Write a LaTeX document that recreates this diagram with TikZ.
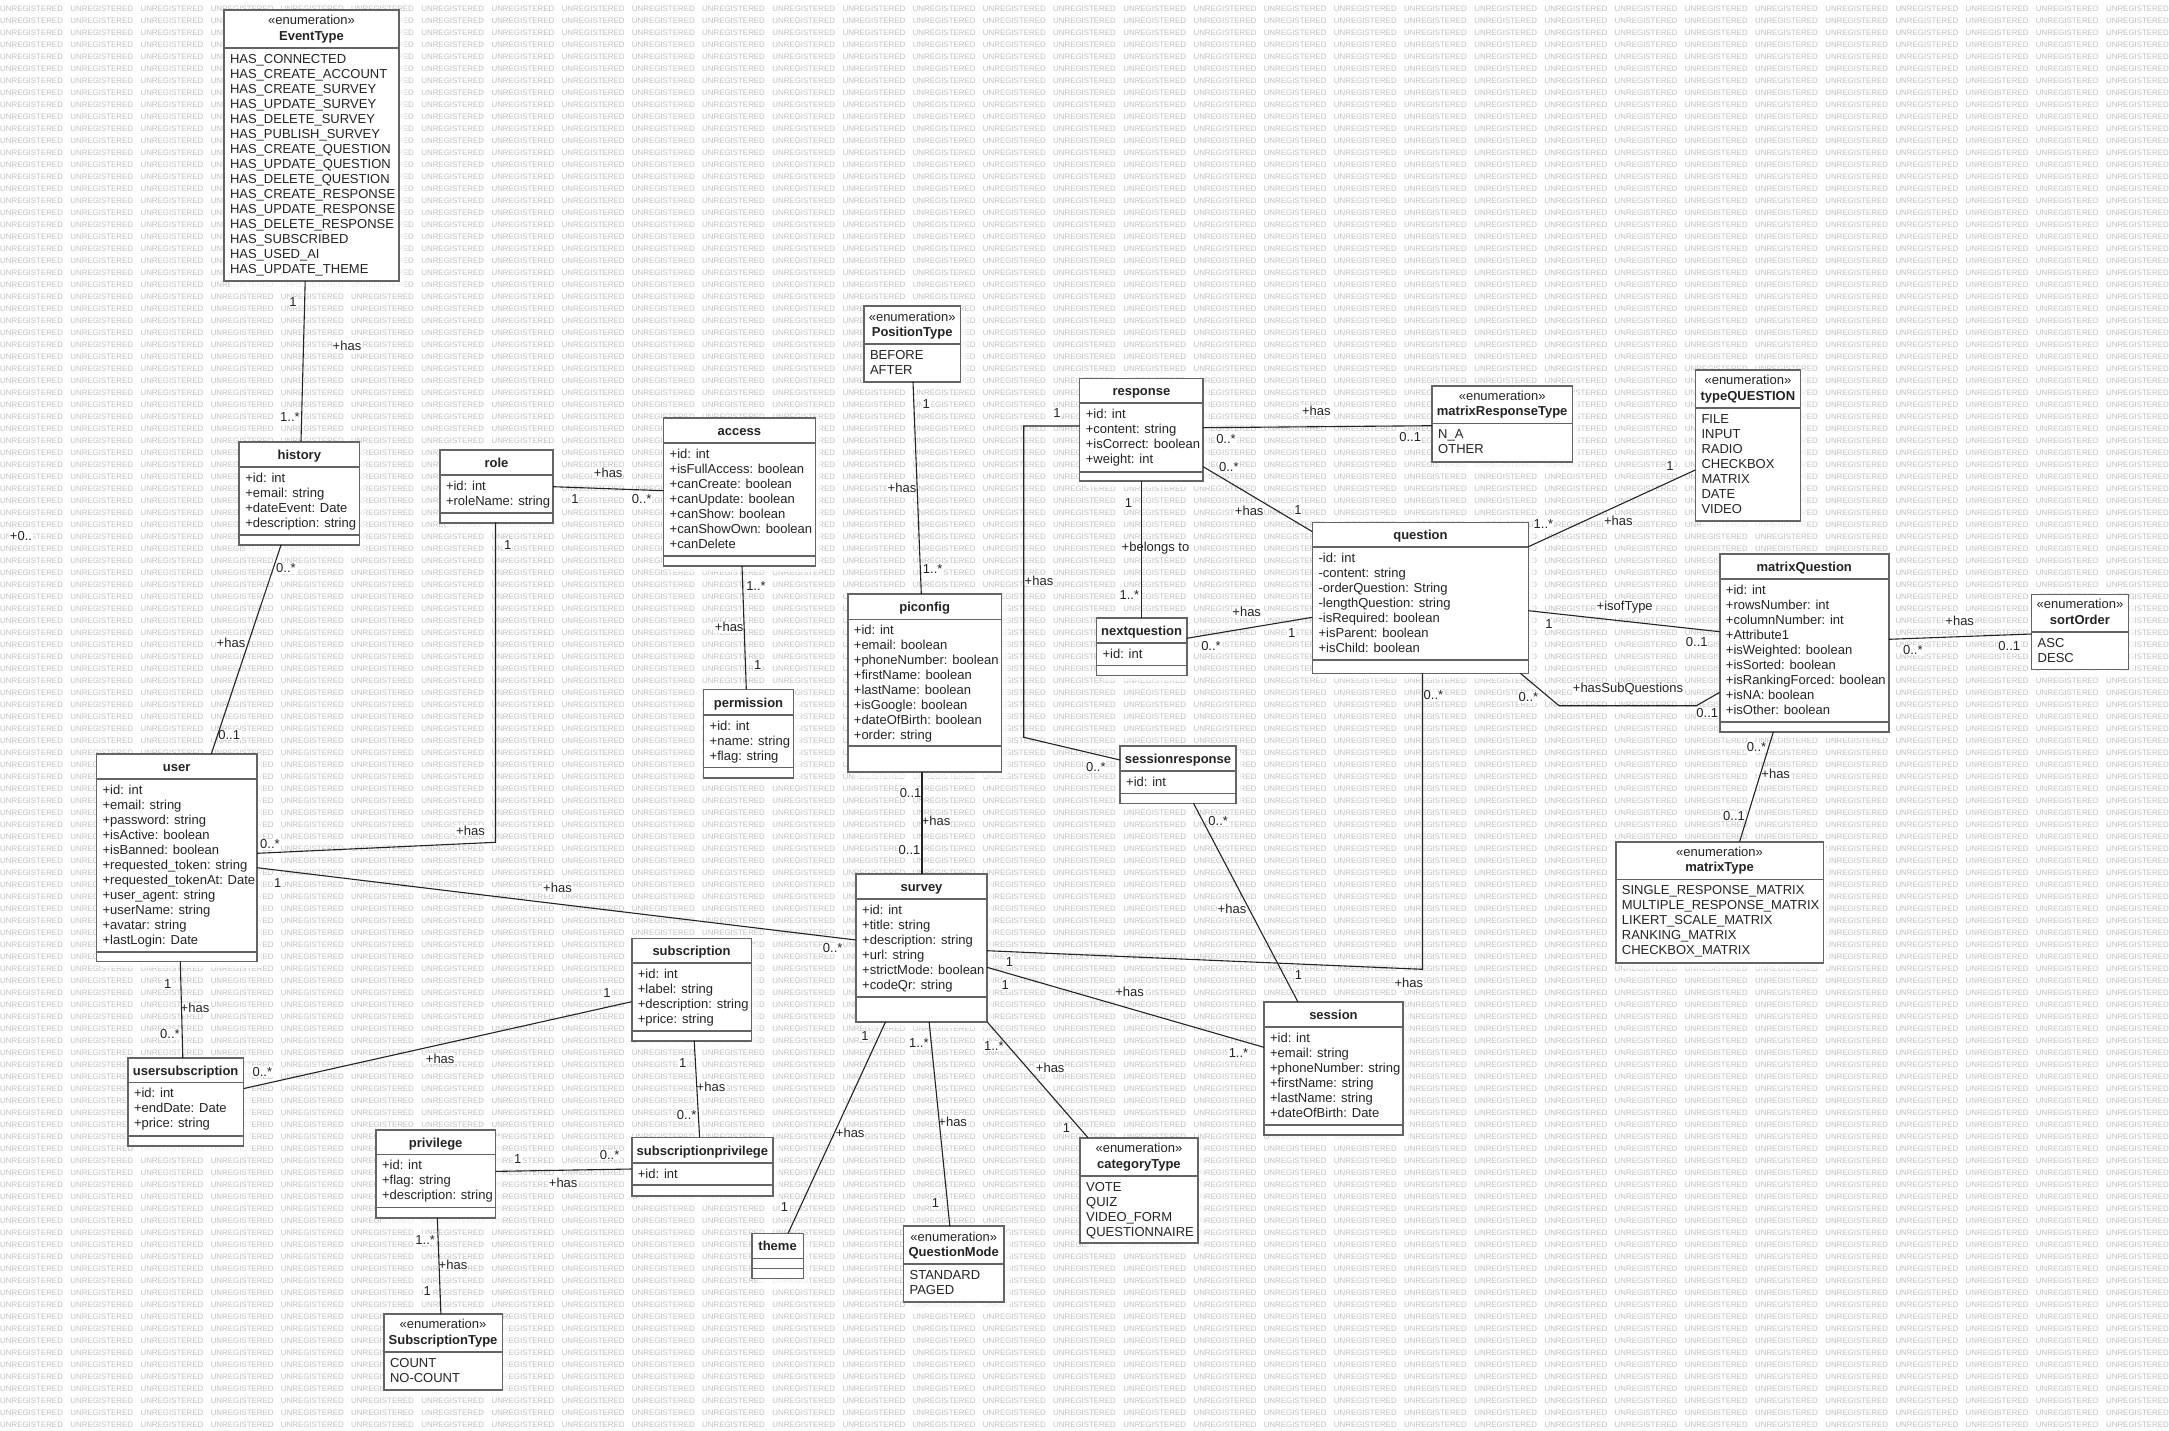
\documentclass[tikz,border=0pt]{standalone}
\usepackage{fontspec}
\setmainfont{Liberation Sans}
\usetikzlibrary{shadows}

\definecolor{boxgray}{RGB}{100,100,100}
\definecolor{inkc}{RGB}{35,35,35}
\definecolor{wmgray}{RGB}{192,192,192}

\newsavebox\wmrow

\tikzset{
  umlbox/.style={draw=boxgray, line width=1.6pt, fill=white, outer sep=0pt, inner sep=0pt,
    drop shadow={shadow xshift=6pt, shadow yshift=-6pt, fill=white, opacity=0.65}},
  sepline/.style={draw=boxgray, line width=1.6pt},
  conn/.style={draw=inkc, line width=1.1pt},
  ttl/.style={font=\fontsize{13}{15}\selectfont\bfseries, text=inkc, inner sep=0pt},
  stereo/.style={font=\fontsize{13}{15}\selectfont, text=inkc, inner sep=0pt},
  attr/.style={font=\fontsize{13}{15}\selectfont, text=inkc, inner sep=0pt},
  lbl/.style={font=\fontsize{13}{15}\selectfont, text=inkc, fill=white, inner sep=0.8pt},
}

% class box: name, left, top, right, bottom, header rule, body rule, title, attributes
\newcommand\umlclass[9]{%
  \pgfmathsetmacro\bxw{#4-#2}\pgfmathsetmacro\bxh{#5-#3}%
  \pgfmathsetmacro\bxt{#6-7.5}\pgfmathsetmacro\bxa{#2+6}\pgfmathsetmacro\bxy{#6+15.3}%
  \node[umlbox, anchor=north west, minimum width=\bxw pt, minimum height=\bxh pt] (#1) at (#2,#3) {};
  \draw[sepline] (#1.west |- 0,#6) -- (#1.east |- 0,#6);
  \ifx\relax#7\relax\else\draw[sepline] (#1.west |- 0,#7) -- (#1.east |- 0,#7);\fi
  \node[ttl, anchor=base] (#1-t) at (#1.north |- 0,\bxt) {#8};
  \ifx\relax#9\relax\else
  \foreach \itm [count=\ii] in {#9} {\node[attr, anchor=base west] (#1-a\ii) at (\bxa,\bxy+15*\ii-15) {\itm};}
  \fi
}

% enumeration box: name, left, top, right, bottom, header rule, title, literals
\newcommand\umlenum[8]{%
  \pgfmathsetmacro\bxw{#4-#2}\pgfmathsetmacro\bxh{#5-#3}%
  \pgfmathsetmacro\bxt{#6-7.5}\pgfmathsetmacro\bxs{#6-23}%
  \pgfmathsetmacro\bxa{#2+6}\pgfmathsetmacro\bxy{#6+15.3}%
  \node[umlbox, anchor=north west, minimum width=\bxw pt, minimum height=\bxh pt] (#1) at (#2,#3) {};
  \draw[sepline] (#1.west |- 0,#6) -- (#1.east |- 0,#6);
  \node[stereo, anchor=base] (#1-s) at (#1.north |- 0,\bxs) {«enumeration»};
  \node[ttl, anchor=base] (#1-t) at (#1.north |- 0,\bxt) {#7};
  \foreach \itm [count=\ii] in {#8} {\node[attr, anchor=base west] (#1-a\ii) at (\bxa,\bxy+15*\ii-15) {\itm};}
}

% multiplicity / role label
\newcommand\lbl[4]{\node[lbl] (#1) at (#2,#3) {#4};}

\begin{document}
\sbox\wmrow{\fontsize{7.9}{8}\selectfont\color{wmgray}%
  \foreach \jj in {1,...,31}{\makebox[70.2pt][l]{UNREGISTERED}}}
\begin{tikzpicture}[x=1pt,y=-1pt]
\useasboundingbox (0,0) rectangle (2169,1430);
\fill[white] (0,0) rectangle (2169,1430);

% watermark rows
\begin{scope}
  \clip (0,0) rectangle (2169,1430);
  \foreach \rr in {0,...,118} {
    \node[anchor=base west, inner sep=0pt] (wm\rr) at (0,11.15+12*\rr) {\usebox\wmrow};
  }
\end{scope}

% ---------- classes and enumerations ----------
\umlenum{EventType}{223.8}{10}{399.2}{281}{47.7}{EventType}{HAS\_CONNECTED, HAS\_CREATE\_ACCOUNT, HAS\_CREATE\_SURVEY, HAS\_UPDATE\_SURVEY, HAS\_DELETE\_SURVEY, HAS\_PUBLISH\_SURVEY, HAS\_CREATE\_QUESTION, HAS\_UPDATE\_QUESTION, HAS\_DELETE\_QUESTION, HAS\_CREATE\_RESPONSE, HAS\_UPDATE\_RESPONSE, HAS\_DELETE\_RESPONSE, HAS\_SUBSCRIBED, HAS\_USED\_AI, HAS\_UPDATE\_THEME}
\umlclass{history}{239.2}{441.7}{359.5}{545}{466.7}{535}{history}{+id: int, +email: string, +dateEvent: Date, +description: string}
\umlclass{role}{439.8}{450}{553.2}{522.7}{475}{512.7}{role}{+id: int, +roleName: string}
\umlclass{access}{663.5}{417.7}{815.3}{566}{443}{556}{access}{+id: int, +isFullAccess: boolean, +canCreate: boolean, +canUpdate: boolean, +canShow: boolean, +canShowOwn: boolean, +canDelete}
\umlclass{permission}{703.5}{689.3}{793.5}{777.7}{715}{767.3}{permission}{+id: int, +name: string, +flag: string}
\umlenum{PositionType}{863.8}{306}{960.5}{381.7}{344}{PositionType}{BEFORE, AFTER}
\umlclass{piconfig}{847.7}{594}{1001.6}{771.7}{619.3}{746}{piconfig}{+id: int, +email: boolean, +phoneNumber: boolean, +firstName: boolean, +lastName: boolean, +isGoogle: boolean, +dateOfBirth: boolean, +order: string}
\umlclass{response}{1079.6}{378.3}{1203.2}{480.7}{402.7}{471.7}{response}{+id: int, +content: string, +isCorrect: boolean, +weight: int}
\umlenum{matrixResponseType}{1432}{386}{1572.3}{461.7}{423.3}{matrixResponseType}{N\_A, OTHER}
\umlenum{typeQUESTION}{1695.3}{370}{1800.5}{521}{407.7}{typeQUESTION}{FILE, INPUT, RADIO, CHECKBOX, MATRIX, DATE, VIDEO}
\umlclass{question}{1312.4}{522.3}{1528.4}{673.3}{546.7}{660}{question}{-id: int, -content: string, -orderQuestion: String, -lengthQuestion: string, -isRequired: boolean, +isParent: boolean, +isChild: boolean}
\umlclass{nextquestion}{1096.4}{617.7}{1186.7}{675.3}{642.7}{665.3}{nextquestion}{+id: int}
\umlclass{matrixQuestion}{1719.7}{554}{1888.7}{731.7}{579}{721.7}{matrixQuestion}{+id: int, +rowsNumber: int, +columnNumber: int, +Attribute1, +isWeighted: boolean, +isSorted: boolean, +isRankingForced: boolean, +isNA: boolean, +isOther: boolean}
\umlenum{sortOrder}{2031.5}{594.3}{2128.4}{669.3}{631.7}{sortOrder}{ASC, DESC}
\umlclass{user}{96.4}{754}{257}{961.5}{779}{951.7}{user}{+id: int, +email: string, +password: string, +isActive: boolean, +isBanned: boolean, +requested\_token: string, +requested\_tokenAt: Date, +user\_agent: string, +userName: string, +avatar: string, +lastLogin: Date}
\umlclass{sessionresponse}{1120}{746}{1236}{803.3}{770.7}{793.3}{sessionresponse}{+id: int}
\umlclass{survey}{856}{874}{987}{1021.7}{899}{996.7}{survey}{+id: int, +title: string, +description: string, +url: string, +strictMode: boolean, +codeQr: string}
\umlenum{matrixType}{1615.7}{841.7}{1823.4}{962.7}{879.3}{matrixType}{SINGLE\_RESPONSE\_MATRIX, MULTIPLE\_RESPONSE\_MATRIX, LIKERT\_SCALE\_MATRIX, RANKING\_MATRIX, CHECKBOX\_MATRIX}
\umlclass{subscription}{631.7}{938.3}{751.3}{1040.7}{962.7}{1031}{subscription}{+id: int, +label: string, +description: string, +price: string}
\umlclass{session}{1263.9}{1001.7}{1403}{1135}{1026.7}{1125}{session}{+id: int, +email: string, +phoneNumber: string, +firstName: string, +lastName: string, +dateOfBirth: Date}
\umlclass{usersubscription}{127.8}{1057.8}{243.5}{1145.7}{1082.5}{1135.9}{usersubscription}{+id: int, +endDate: Date, +price: string}
\umlclass{subscriptionprivilege}{631.7}{1137.3}{773.1}{1195.7}{1162.7}{1185}{subscriptionprivilege}{+id: int}
\umlclass{privilege}{375.9}{1129.8}{495.5}{1217.7}{1154.5}{1207.6}{privilege}{+id: int, +flag: string, +description: string}
\umlenum{categoryType}{1080}{1137.7}{1197.8}{1243}{1175.7}{categoryType}{VOTE, QUIZ, VIDEO\_FORM, QUESTIONNAIRE}
\umlclass{theme}{751.7}{1233.3}{803.5}{1278.3}{1258.3}{1268.3}{theme}{}
\umlenum{QuestionMode}{903.4}{1226}{1004.1}{1301.7}{1264}{QuestionMode}{STANDARD, PAGED}
\umlenum{SubscriptionType}{383.8}{1314}{502.3}{1390.1}{1351.9}{SubscriptionType}{COUNT, NO-COUNT}

% ---------- association labels ----------
\lbl{l0}{21}{535.7}{+0..}
\lbl{l1a}{293}{302}{1} \lbl{l1b}{347}{345.7}{+has} \lbl{l1c}{290}{416.7}{1..*}
\lbl{l2a}{286}{568.3}{0..*} \lbl{l2b}{231}{643.3}{+has} \lbl{l2c}{229.2}{735}{0..1}
\lbl{l3a}{608.2}{472.7}{+has} \lbl{l3b}{575}{499.3}{1} \lbl{l3c}{641.7}{499.3}{0..*}
\lbl{l4a}{507.7}{545}{1} \lbl{l4b}{470.5}{830.7}{+has} \lbl{l4c}{270}{844.3}{0..*}
\lbl{l5a}{277.7}{882.7}{1} \lbl{l5b}{557.5}{888.3}{+has} \lbl{l5c}{832.7}{948.3}{0..*}
\lbl{l6a}{756}{586}{1..*} \lbl{l6b}{729.2}{627.3}{+has} \lbl{l6c}{757.8}{665}{1}
\lbl{l7a}{926.3}{404}{1} \lbl{l7b}{902}{487.7}{+has} \lbl{l7c}{932.7}{569.3}{1..*}
\lbl{l8a}{910.6}{792.7}{0..1} \lbl{l8b}{936}{821}{+has} \lbl{l8c}{909.5}{850}{0..1}
\lbl{l9a}{1057}{413.3}{1} \lbl{l9b}{1039}{580.7}{+has} \lbl{l9c}{1095.9}{766.7}{0..*}
\lbl{l10a}{1316.4}{410.7}{+has} \lbl{l10b}{1226}{439}{0..*} \lbl{l10c}{1410.2}{437.3}{0..1}
\lbl{l11a}{1228.9}{466.7}{0..*} \lbl{l11b}{1249.2}{510.7}{+has} \lbl{l11c}{1298}{510}{1}
\lbl{l12a}{1128.5}{502.7}{1} \lbl{l12b}{1155.5}{547.7}{+belongs to} \lbl{l12c}{1129.3}{595}{1..*}
\lbl{l13a}{1246.7}{612.3}{+has} \lbl{l13b}{1291.7}{632.7}{1} \lbl{l13c}{1211}{646}{0..*}
\lbl{l14a}{1543.4}{524.3}{1..*} \lbl{l14b}{1618.3}{521}{+has} \lbl{l14c}{1670}{466}{1}
\lbl{l15a}{1624.7}{606.7}{+isofType} \lbl{l15b}{1549}{624.3}{1} \lbl{l15c}{1696.8}{641.7}{0..1}
\lbl{l16a}{1528.4}{697.3}{0..*} \lbl{l16b}{1628}{689.5}{+hasSubQuestions} \lbl{l16c}{1707.3}{712.7}{0..1}
\lbl{l17a}{1433.4}{695}{0..*} \lbl{l17b}{1408.8}{983.3}{+has} \lbl{l17c}{1009.5}{961.7}{1}
\lbl{l18a}{1005.2}{985}{1} \lbl{l18b}{1129.6}{992.3}{+has} \lbl{l18c}{1238.5}{1052.7}{1..*}
\lbl{l19a}{1218.2}{821}{0..*} \lbl{l19b}{1232}{909.3}{+has} \lbl{l19c}{1298.5}{975.3}{1}
\lbl{l20a}{1959.7}{621}{+has} \lbl{l20b}{1912.8}{650}{0..*} \lbl{l20c}{2009.3}{646}{0..1}
\lbl{l21a}{1756.5}{747.3}{0..*} \lbl{l21b}{1775.7}{774.3}{+has} \lbl{l21c}{1734}{816}{0..1}
\lbl{l22a}{167.8}{983.8}{1} \lbl{l22b}{195}{1008.2}{+has} \lbl{l22c}{170}{1034.2}{0..*}
\lbl{l23a}{262.4}{1071.7}{0..*} \lbl{l23b}{440.2}{1058.9}{+has} \lbl{l23c}{607.1}{993.3}{1}
\lbl{l24a}{682.8}{1062.7}{1} \lbl{l24b}{711}{1087.3}{+has} \lbl{l24c}{686.7}{1115}{0..*}
\lbl{l25a}{517.7}{1158.6}{1} \lbl{l25b}{563.2}{1183.3}{+has} \lbl{l25c}{609.6}{1155}{0..*}
\lbl{l26a}{425.2}{1239.7}{1..*} \lbl{l26b}{453}{1264.4}{+has} \lbl{l26c}{427.3}{1291}{1}
\lbl{l27a}{864.9}{1036}{1} \lbl{l27b}{850.2}{1133.3}{+has} \lbl{l27c}{784.5}{1207.3}{1}
\lbl{l28a}{918.8}{1043.3}{1..*} \lbl{l28b}{952.7}{1121.7}{+has} \lbl{l28c}{935.6}{1203.3}{1}
\lbl{l29a}{993.8}{1046}{1..*} \lbl{l29b}{1050.2}{1068.3}{+has} \lbl{l29c}{1066.6}{1128.3}{1}

% ---------- associations ----------
\coordinate (k4) at (495.5,842.3);
\coordinate (k9a) at (1023.7,426);
\coordinate (k9b) at (1023.7,737.3);
\coordinate (k16a) at (1559,705.7);
\coordinate (k16b) at (1696.4,705.7);
\coordinate (k17) at (1422.5,969.3);

\draw[conn] (EventType.south -| 305.2,0) -- (history.north -| 301,0);
\draw[conn] (history.south -| 281,0) -- (user.north -| 211.3,0);
\draw[conn] (role.east |- 0,486.7) -- (access.west |- 0,490.7);
\draw[conn] (role.south -| k4) -- (k4) -- (user.east |- 0,853.3);
\draw[conn] (user.east |- 0,867.7) -- (survey.west |- 0,940);
\draw[conn] (access.south -| 742,0) -- (permission.north -| 746.3,0);
\draw[conn] (PositionType.south -| 913,0) -- (piconfig.north -| 921.3,0);
\draw[conn] (piconfig.south -| 922,0) -- (survey.north -| 922,0);
\draw[conn] (response.west |- k9a) -- (k9a) -- (k9b) -- (sessionresponse.west |- 0,760);
\draw[conn] (response.east |- 0,427.7) -- (matrixResponseType.west |- 0,425.7);
\draw[conn] (response.east |- 0,466.7) -- (question.west |- 0,531.7);
\draw[conn] (response.south -| 1141.4,0) -- (nextquestion.north -| 1141.4,0);
\draw[conn] (nextquestion.east |- 0,638.3) -- (question.west |- 0,617.3);
\draw[conn] (question.east |- 0,546.7) -- (typeQUESTION.west |- 0,470);
\draw[conn] (question.east |- 0,610.7) -- (matrixQuestion.west |- 0,631.7);
\draw[conn] (question.south -| 1520.4,0) -- (k16a) -- (k16b) -- (matrixQuestion.west |- 0,692.3);
\draw[conn] (question.south -| k17) -- (k17) -- (survey.east |- 0,950.7);
\draw[conn] (survey.east |- 0,967.3) -- (session.west |- 0,1047.3);
\draw[conn] (sessionresponse.south -| 1193.5,0) -- (session.north -| 1297.8,0);
\draw[conn] (matrixQuestion.east |- 0,639.3) -- (sortOrder.west |- 0,634);
\draw[conn] (matrixQuestion.south -| 1773.4,0) -- (matrixType.north -| 1739.6,0);
\draw[conn] (user.south -| 180.3,0) -- (usersubscription.north -| 182.8,0);
\draw[conn] (usersubscription.east |- 0,1088.6) -- (subscription.west |- 0,1001.7);
\draw[conn] (subscription.south -| 694.2,0) -- (subscriptionprivilege.north -| 699.6,0);
\draw[conn] (privilege.east |- 0,1171.4) -- (subscriptionprivilege.west |- 0,1169);
\draw[conn] (privilege.south -| 437.3,0) -- (SubscriptionType.north -| 440.9,0);
\draw[conn] (survey.south -| 885.6,0) -- (theme.north -| 788.1,0);
\draw[conn] (survey.south -| 929.1,0) -- (QuestionMode.north -| 949.8,0);
\draw[conn] (survey.south east) -- (categoryType.north -| 1088,0);
\end{tikzpicture}
\end{document}
